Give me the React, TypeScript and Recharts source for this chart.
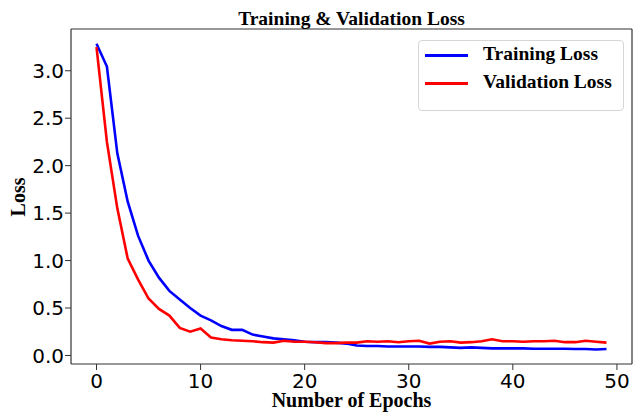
import React from 'react';
import { LineChart, Line, XAxis, YAxis, Legend } from 'recharts';

const epochs: number[] = Array.from({ length: 50 }, (_, i) => i);

const trainingLoss: number[] = [
  3.285, 3.045, 2.13, 1.62, 1.26, 1.0, 0.82, 0.68, 0.59, 0.5,
  0.42, 0.37, 0.31, 0.27, 0.27, 0.22, 0.2, 0.18, 0.17, 0.16,
  0.145, 0.14, 0.14, 0.135, 0.125, 0.105, 0.1, 0.1, 0.095, 0.095,
  0.095, 0.095, 0.09, 0.09, 0.085, 0.08, 0.085, 0.08, 0.075, 0.075,
  0.075, 0.075, 0.07, 0.07, 0.07, 0.07, 0.068, 0.068, 0.063, 0.068,
];

const validationLoss: number[] = [
  3.25, 2.25, 1.55, 1.02, 0.8, 0.6, 0.49, 0.42, 0.29, 0.25,
  0.285, 0.19, 0.17, 0.16, 0.155, 0.15, 0.14, 0.135, 0.155, 0.145,
  0.145, 0.14, 0.13, 0.13, 0.135, 0.135, 0.15, 0.145, 0.15, 0.14,
  0.15, 0.155, 0.125, 0.145, 0.15, 0.135, 0.14, 0.15, 0.17, 0.15,
  0.15, 0.145, 0.15, 0.15, 0.155, 0.14, 0.14, 0.155, 0.145, 0.135,
];

const xTicks: number[] = [0, 10, 20, 30, 40, 50];
const yTicks: number[] = [0, 0.5, 1.0, 1.5, 2.0, 2.5, 3.0];

const seriesNames = { train: 'Training Loss', val: 'Validation Loss' };
const titleText = 'Training & Validation Loss';
const xLabel = 'Number of Epochs';
const yLabel = 'Loss';

const data = epochs.map((e, i) => ({
  epoch: e,
  train: trainingLoss[i],
  val: validationLoss[i],
}));

const SERIF = '"Liberation Serif", "Times New Roman", serif';
const SANS = '"DejaVu Sans", sans-serif';
const AXIS = '#333';

const tickStyle = { fill: '#000', fontSize: 20, fontFamily: SANS };

const LegendBox = () => (
  <div
    style={{
      position: 'relative',
      width: 206,
      height: 71,
      boxSizing: 'border-box',
      border: '1px solid #d6d6d6',
      borderRadius: 4,
      background: '#fff',
      fontFamily: SERIF,
      fontWeight: 'bold',
      fontSize: 19.5,
      color: '#000',
    }}
  >
    {[
      { name: seriesNames.train, color: '#0000ff', y: 14 },
      { name: seriesNames.val, color: '#ff0000', y: 42 },
    ].map((it) => (
      <div key={it.name}>
        <div
          style={{
            position: 'absolute',
            left: 6,
            top: it.y - 1.5,
            width: 43,
            height: 3,
            background: it.color,
          }}
        />
        <div
          style={{
            position: 'absolute',
            left: 64,
            top: it.y - 13,
            lineHeight: '24px',
            whiteSpace: 'nowrap',
          }}
        >
          {it.name}
        </div>
      </div>
    ))}
  </div>
);

export default function App() {
  return (
    <div
      style={{
        position: 'absolute',
        left: 0,
        top: 0,
        width: 633,
        height: 413,
        background: '#fff',
        overflow: 'hidden',
      }}
    >
      <LineChart
        width={633}
        height={413}
        data={data}
        margin={{ top: 0, right: 0, bottom: 0, left: 0 }}
      >
        <XAxis
          dataKey="epoch"
          type="number"
          domain={[-2.45, 51.45]}
          ticks={xTicks}
          allowDataOverflow
          height={49}
          tickSize={6}
          tickMargin={4}
          tick={tickStyle}
          stroke={AXIS}
          axisLine={{ stroke: AXIS, strokeWidth: 1.2 }}
          tickLine={{ stroke: AXIS, strokeWidth: 1 }}
          interval={0}
        />
        <XAxis
          xAxisId="top"
          orientation="top"
          dataKey="epoch"
          type="number"
          domain={[-2.45, 51.45]}
          allowDataOverflow
          height={29}
          tick={false}
          tickLine={false}
          axisLine={{ stroke: AXIS, strokeWidth: 1.2 }}
        />
        <YAxis
          type="number"
          domain={[-0.09, 3.44]}
          ticks={yTicks}
          allowDataOverflow
          width={71}
          tickSize={6}
          tickMargin={1}
          tick={tickStyle}
          tickFormatter={(v: number) => v.toFixed(1)}
          axisLine={{ stroke: AXIS, strokeWidth: 1.2 }}
          tickLine={{ stroke: AXIS, strokeWidth: 1 }}
          interval={0}
        />
        <YAxis
          yAxisId="right"
          orientation="right"
          type="number"
          domain={[-0.09, 3.44]}
          allowDataOverflow
          width={1}
          tick={false}
          tickLine={false}
          axisLine={{ stroke: AXIS, strokeWidth: 1.2 }}
        />
        <Legend
          verticalAlign="middle"
          align="center"
          layout="horizontal"
          wrapperStyle={{ left: 418, top: 40, width: 206, height: 71 }}
          content={() => <LegendBox />}
        />
        <Line
          type="linear"
          dataKey="train"
          name={seriesNames.train}
          stroke="#0000ff"
          strokeWidth={2.6}
          dot={false}
          activeDot={false}
          isAnimationActive={false}
        />
        <Line
          type="linear"
          dataKey="val"
          name={seriesNames.val}
          stroke="#ff0000"
          strokeWidth={2.6}
          dot={false}
          activeDot={false}
          isAnimationActive={false}
        />
      </LineChart>
      <svg
        width={633}
        height={413}
        style={{ position: 'absolute', left: 0, top: 0, pointerEvents: 'none' }}
      >
        <text
          x={351.5}
          y={25}
          textAnchor="middle"
          fontFamily={SERIF}
          fontWeight="bold"
          fontSize={19.5}
          fill="#000"
        >
          {titleText}
        </text>
        <text
          x={351.5}
          y={407}
          textAnchor="middle"
          fontFamily={SERIF}
          fontWeight="bold"
          fontSize={20}
          fill="#000"
        >
          {xLabel}
        </text>
        <text
          x={25}
          y={197}
          transform="rotate(-90 25 197)"
          textAnchor="middle"
          fontFamily={SERIF}
          fontWeight="bold"
          fontSize={20}
          fill="#000"
        >
          {yLabel}
        </text>
      </svg>
    </div>
  );
}
